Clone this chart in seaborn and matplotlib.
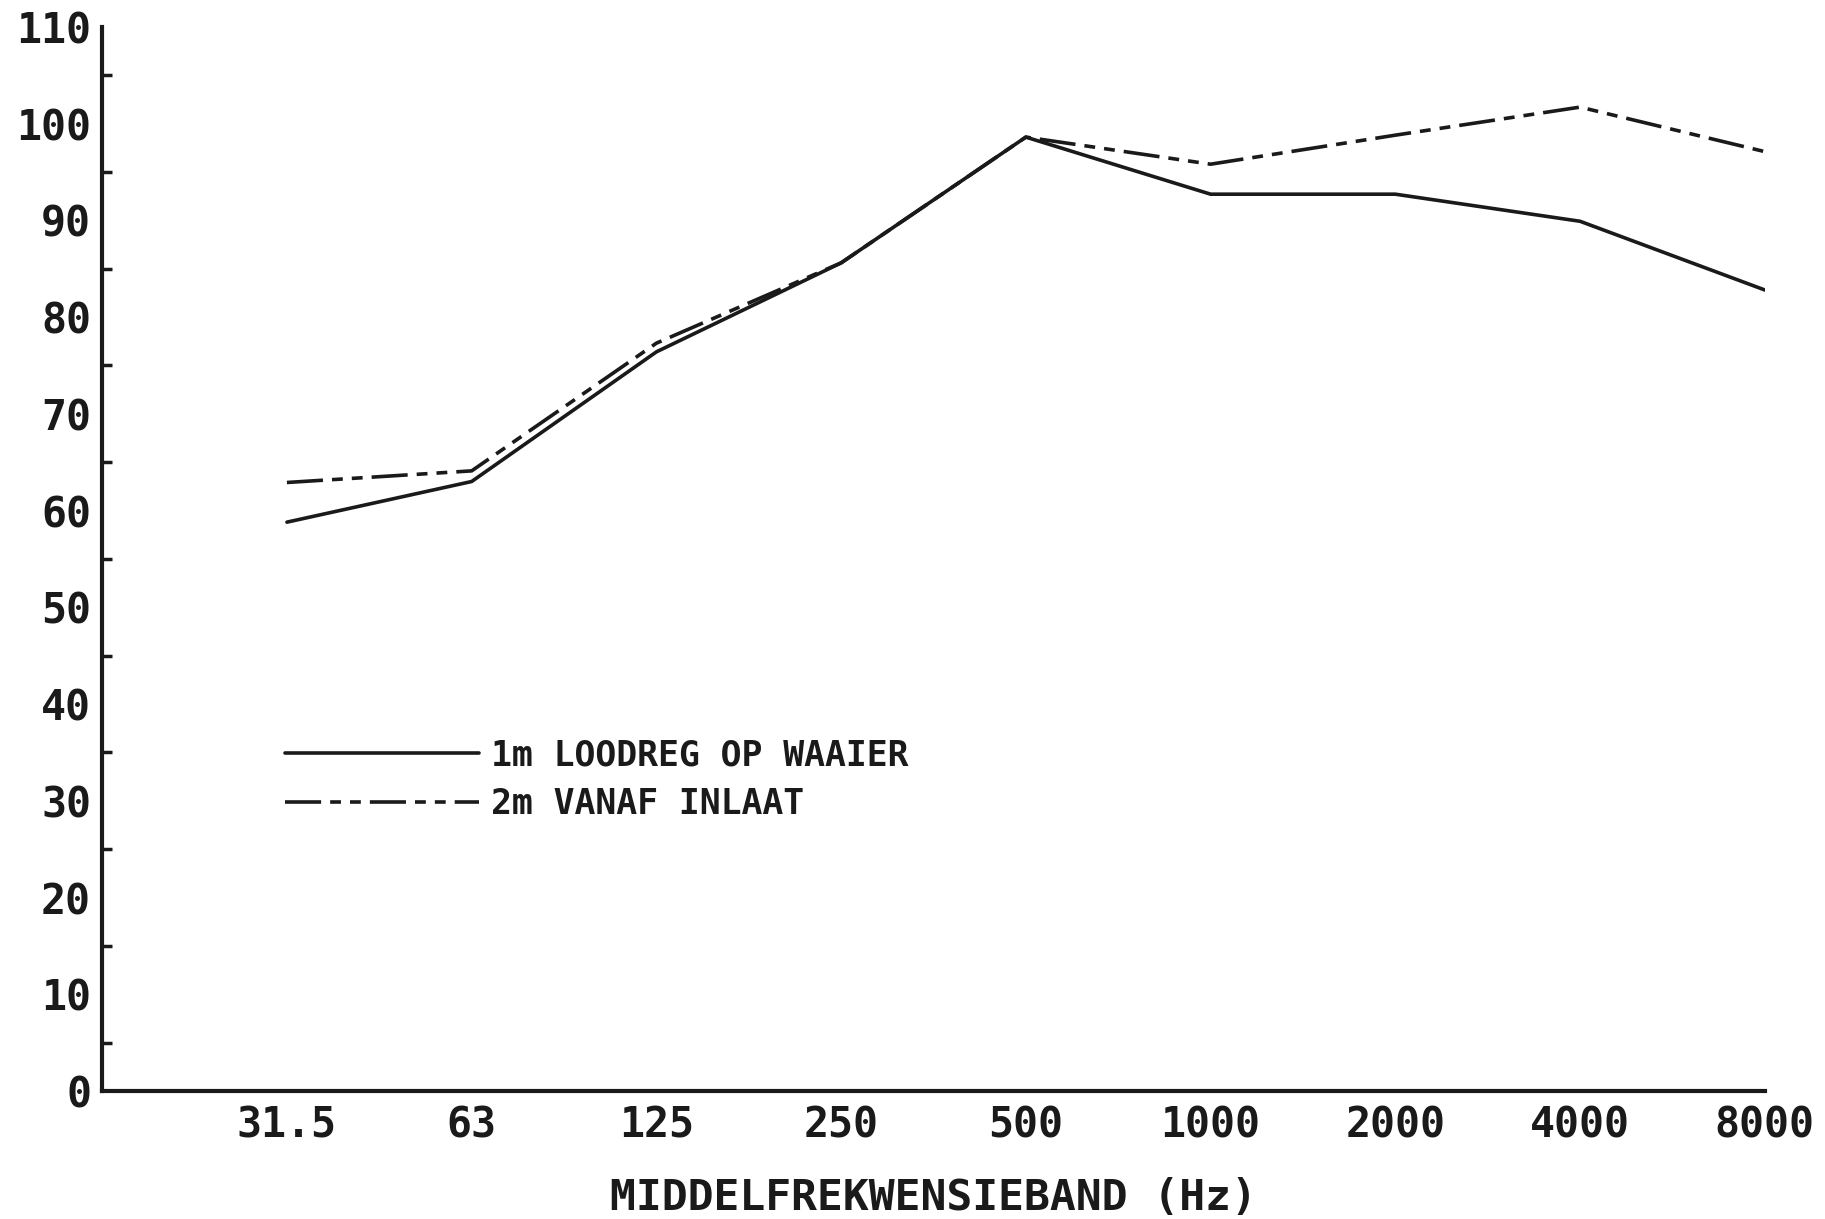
import matplotlib
matplotlib.use("Agg")
import matplotlib.pyplot as plt
import seaborn as sns
import pandas as pd
import numpy as np
from matplotlib.lines import Line2D

# ---- data ----
bands = ["31.5", "63", "125", "250", "500", "1000", "2000", "4000", "8000"]
loodreg_1m = [58.8, 63.0, 76.4, 85.6, 98.6, 92.7, 92.7, 89.9, 82.8]
inlaat_2m = [62.9, 64.1, 77.3, 85.6, 98.6, 95.8, 98.8, 101.7, 97.1]
series_names = ["1m LOODREG OP WAAIER", "2m VANAF INLAAT"]
y_ticks = list(range(0, 111, 10))
x_label = "MIDDELFREKWENSIEBAND (Hz)"

positions = list(range(1, len(bands) + 1))
df = pd.DataFrame({
    "pos": positions * 2,
    "value": loodreg_1m + inlaat_2m,
    "series": [series_names[0]] * len(bands) + [series_names[1]] * len(bands),
})

sns.set_theme(style="white")
plt.rcParams["font.family"] = ["DejaVu Sans Mono", "DejaVu Sans"]
plt.rcParams["font.weight"] = "bold"

fig = plt.figure(figsize=(18.25, 12.19), dpi=100)
ax = fig.add_axes([0.056, 0.105, 0.911, 0.873])

dash_pat = (10, 2.5, 3, 2.5, 3, 2.5)
sns.lineplot(data=df, x="pos", y="value", style="series",
             dashes={series_names[0]: "", series_names[1]: dash_pat},
             color="#1a1a1a", linewidth=2.6, legend=False, ax=ax)

ax.set_xlim(0, 9)
ax.set_ylim(0, 110)
ax.set_xticks(positions)
ax.set_xticklabels(bands)
ax.set_yticks(y_ticks)
ax.set_yticks(list(range(5, 110, 10)), minor=True)
ax.set_yticklabels([str(v) for v in y_ticks])

for s in ["top", "right"]:
    ax.spines[s].set_visible(False)
for s in ["left", "bottom"]:
    ax.spines[s].set_linewidth(3)
    ax.spines[s].set_color("#1a1a1a")

ax.tick_params(axis="both", which="major", direction="in", length=13,
               width=2.5, color="#1a1a1a", labelsize=30, pad=8,
               labelcolor="#1a1a1a")
ax.tick_params(axis="y", which="minor", direction="in", length=7,
               width=2.5, color="#1a1a1a", left=True)
ax.tick_params(axis="x", pad=10)

ax.set_xlabel(x_label, fontsize=31, fontweight="bold", labelpad=22,
              color="#1a1a1a")
ax.set_ylabel("")

handles = [
    Line2D([], [], color="#1a1a1a", linewidth=2.6),
    Line2D([], [], color="#1a1a1a", linewidth=2.6, dashes=dash_pat),
]
leg = ax.legend(handles, series_names, loc="upper left",
                bbox_to_anchor=(0.091, 0.361), frameon=False,
                handlelength=5.6, handletextpad=0.35, fontsize=25,
                labelspacing=0.42)
for t in leg.get_texts():
    t.set_color("#1a1a1a")

fig.savefig("out.png", dpi=100, facecolor="white")
